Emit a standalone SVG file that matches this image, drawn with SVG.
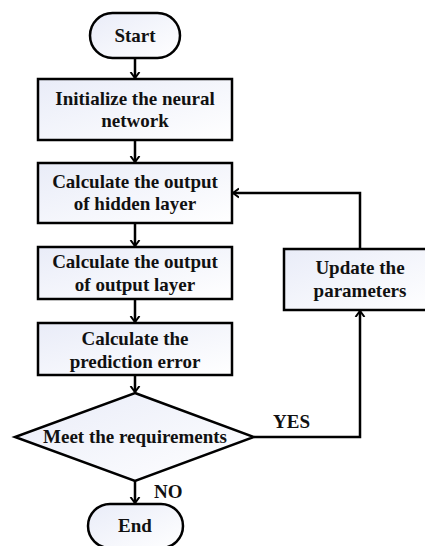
<svg xmlns="http://www.w3.org/2000/svg" width="425" height="546" viewBox="0 0 425 546">
<defs>
<linearGradient id="g" x1="0" y1="0" x2="1" y2="1">
<stop offset="0" stop-color="#e9ecf8"/>
<stop offset="1" stop-color="#ffffff"/>
</linearGradient>
<marker id="ah" markerWidth="12" markerHeight="12" viewBox="-6 -6 12 12" refX="0" refY="0" orient="auto" markerUnits="userSpaceOnUse">
<path d="M-6,-4.5 L0,0 L-6,4.5" fill="none" stroke="#000" stroke-width="2"/>
</marker>
<style>
.s{fill:url(#g);stroke:#000;stroke-width:2.5}
.t{font-family:"Liberation Serif","Times New Roman",serif;font-weight:bold;font-size:19px;fill:#111;text-anchor:middle}
.l{fill:none;stroke:#000;stroke-width:2.5;marker-end:url(#ah)}
</style>
</defs>
<rect width="425" height="546" fill="#fff"/>
<g id="connectors">
<path class="l" d="M135,58 V78"/>
<path class="l" d="M135,140 V162"/>
<path class="l" d="M135,223 V246"/>
<path class="l" d="M135,299 V322"/>
<path class="l" d="M135,375 V392"/>
<path class="l" d="M135,481 V503"/>
<path class="l" d="M254,437 H360 V311"/>
<path class="l" d="M360,249 V193 H233"/>
<text class="t" x="273" y="428" style="text-anchor:start">YES</text>
<text class="t" x="154" y="498" style="text-anchor:start">NO</text>
</g>
<g id="start">
<rect class="s" x="90" y="13" width="90" height="45" rx="22.5"/>
<text class="t" x="135" y="42">Start</text>
</g>
<g id="init">
<rect class="s" x="38" y="79" width="194" height="61"/>
<text class="t" x="135" y="105">Initialize the neural</text>
<text class="t" x="135" y="127">network</text>
</g>
<g id="hidden">
<rect class="s" x="38" y="163" width="194" height="60"/>
<text class="t" x="135" y="188">Calculate the output</text>
<text class="t" x="135" y="210">of hidden layer</text>
</g>
<g id="output">
<rect class="s" x="38" y="247" width="194" height="52"/>
<text class="t" x="135" y="268">Calculate the output</text>
<text class="t" x="135" y="291">of output layer</text>
</g>
<g id="error">
<rect class="s" x="38" y="323" width="194" height="52"/>
<text class="t" x="135" y="345">Calculate the</text>
<text class="t" x="135" y="368">prediction error</text>
</g>
<g id="decision">
<polygon class="s" points="135,393 254,437 135,481 15,437"/>
<text class="t" x="135" y="443">Meet the requirements</text>
</g>
<g id="update">
<rect class="s" x="284" y="249" width="150" height="61"/>
<text class="t" x="360" y="274">Update the</text>
<text class="t" x="360" y="297">parameters</text>
</g>
<g id="end">
<rect class="s" x="88" y="504" width="95" height="44" rx="22"/>
<text class="t" x="135" y="532">End</text>
</g>
</svg>
